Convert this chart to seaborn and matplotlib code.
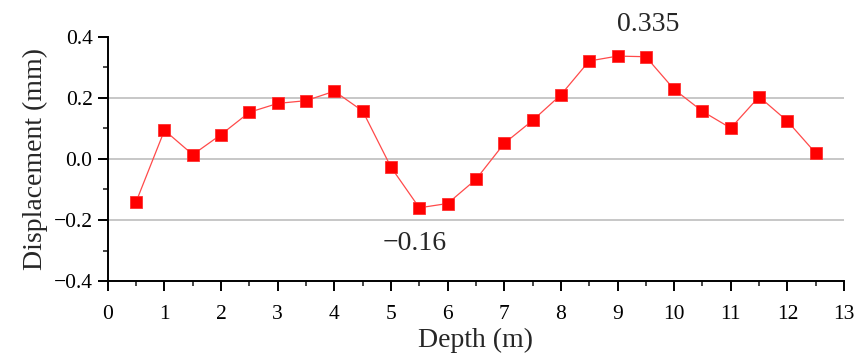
import numpy as np
import pandas as pd
import matplotlib
matplotlib.use("Agg")
import matplotlib.pyplot as plt
import seaborn as sns
from matplotlib.ticker import MultipleLocator

# depth (m) and measured displacement (mm)
depth = [0.5, 1.0, 1.5, 2.0, 2.5, 3.0, 3.5, 4.0, 4.5, 5.0, 5.5, 6.0, 6.5,
         7.0, 7.5, 8.0, 8.5, 9.0, 9.5, 10.0, 10.5, 11.0, 11.5, 12.0, 12.5]
displacement = [-0.140, 0.094, 0.014, 0.080, 0.153, 0.182, 0.191, 0.222, 0.157,
                -0.027, -0.160, -0.146, -0.067, 0.051, 0.126, 0.210, 0.321,
                0.337, 0.335, 0.228, 0.156, 0.101, 0.204, 0.124, 0.019]
ytick_vals = [-0.4, -0.2, 0.0, 0.2, 0.4]
ytick_text = ["\u22120.4", "\u22120.2", "0.0", "0.2", "0.4"]
max_label = "0.335"
min_label = "\u22120.16"

df = pd.DataFrame({"Depth": depth, "Displacement": displacement})

sns.set_theme(style="ticks")
plt.rcParams["font.family"] = ["Liberation Serif", "DejaVu Serif"]

fig = plt.figure(figsize=(8.56, 3.58), dpi=100)
ax = fig.add_axes([0.126, 0.215, 0.860, 0.682])

sns.lineplot(data=df, x="Depth", y="Displacement", ax=ax, color="#ff4a4a",
             linewidth=0.9, marker="s", markersize=8, markerfacecolor="#ff0000",
             markeredgecolor="#ff3030", markeredgewidth=0.6, zorder=3)

ax.set_xlim(0, 13)
ax.set_ylim(-0.4, 0.4)
ax.xaxis.set_major_locator(MultipleLocator(1))
ax.xaxis.set_minor_locator(MultipleLocator(0.5))
ax.yaxis.set_minor_locator(MultipleLocator(0.1))
ax.set_yticks(ytick_vals)
ax.set_yticklabels(ytick_text)

for y in [-0.2, 0.0, 0.2]:
    ax.axhline(y, color="#bdbdbd", linewidth=1.2, zorder=1)

sns.despine(ax=ax)
for s in ["left", "bottom"]:
    ax.spines[s].set_color("black")
    ax.spines[s].set_linewidth(1.4)
ax.tick_params(axis="both", which="major", direction="out", length=7, width=1.4,
               labelsize=15.5, colors="black")
ax.tick_params(axis="x", which="major", pad=10)
ax.tick_params(axis="y", which="major", pad=4)
ax.tick_params(axis="both", which="minor", direction="out", length=3.8, width=1.2)

ax.set_xlabel("Depth (m)", fontsize=20, labelpad=3)
ax.set_ylabel("Displacement (mm)", fontsize=20, labelpad=4)

ax.text(9.55, 0.44, max_label, fontsize=20, ha="center", va="center",
        clip_on=False)
ax.text(5.42, -0.276, min_label, fontsize=20, ha="center", va="center")

fig.savefig("out.png", dpi=100)
